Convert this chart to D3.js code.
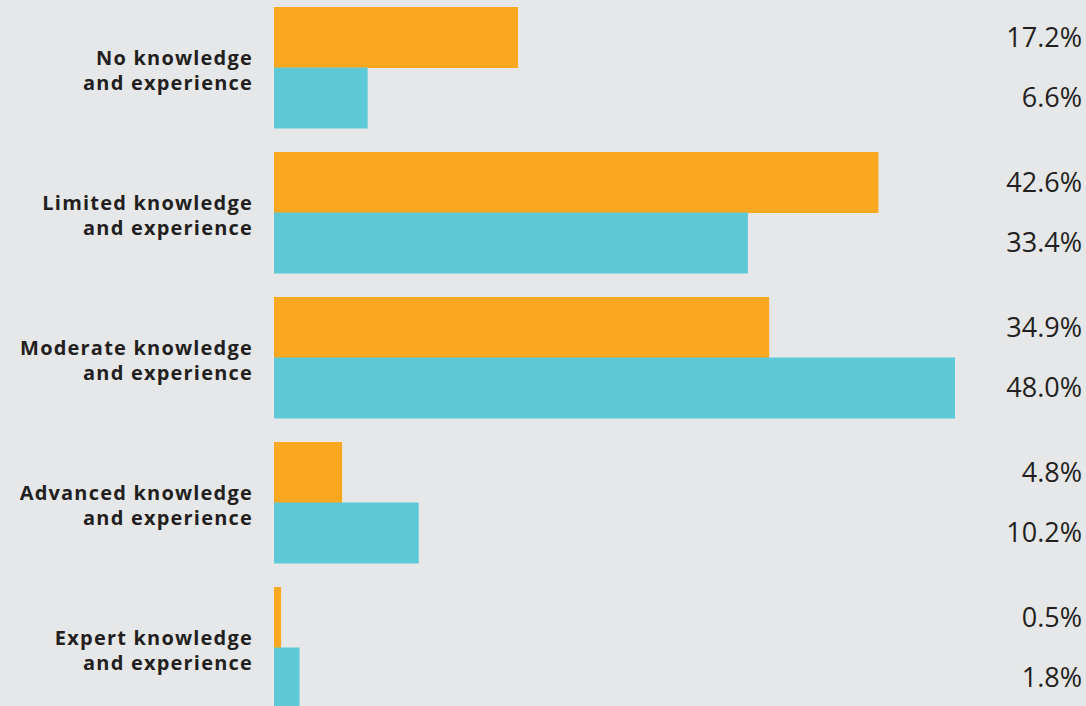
<!DOCTYPE html>
<html>
<head>
<meta charset="utf-8">
<script src="https://cdn.jsdelivr.net/npm/d3@7"></script>
<style>
  html, body { margin: 0; padding: 0; background: #e6e7e9; }
  svg { display: block; }
</style>
</head>
<body>
<svg id="chart" width="1086" height="706"></svg>
<script>
// Knowledge / experience levels (two-line labels)
const categories = [
  ["No knowledge", "and experience"],
  ["Limited knowledge", "and experience"],
  ["Moderate knowledge", "and experience"],
  ["Advanced knowledge", "and experience"],
  ["Expert knowledge", "and experience"]
];
const seriesNames = ["orange", "teal"];
const orangeValues = [17.2, 42.6, 34.9, 4.8, 0.5];
const tealValues = [6.6, 33.4, 48.0, 10.2, 1.8];
const colors = { orange: "#f9a820", teal: "#5ec9d6" };

const svg = d3.select("#chart");

const keys = categories.map(c => c.join(" "));
const rows = keys.map((k, i) => ({ key: k, lines: categories[i], orange: orangeValues[i], teal: tealValues[i] }));

const x = d3.scaleLinear().domain([0, 48]).range([274, 955]);
const y = d3.scaleBand().domain(keys).range([7, 708]).paddingInner(24 / 145).paddingOuter(0);
const ySub = d3.scaleBand().domain(seriesNames).range([0, y.bandwidth()]);

const groups = svg.selectAll("g.group")
  .data(rows)
  .join("g")
  .attr("class", "group")
  .attr("transform", d => `translate(0,${y(d.key)})`);

// bars
groups.selectAll("rect")
  .data(d => seriesNames.map(s => ({ s, v: d[s] })))
  .join("rect")
  .attr("x", x(0))
  .attr("y", d => ySub(d.s))
  .attr("width", d => x(d.v) - x(0))
  .attr("height", ySub.bandwidth() + 0.5)
  .attr("fill", d => colors[d.s]);

// value labels at right edge
groups.selectAll("text.value")
  .data(d => seriesNames.map(s => ({ s, v: d[s] })))
  .join("text")
  .attr("class", "value")
  .attr("x", 1082)
  .attr("y", d => ySub(d.s) + ySub.bandwidth() / 2 + 9.5)
  .attr("text-anchor", "end")
  .attr("font-family", "'Open Sans', sans-serif")
  .attr("font-size", 27)
  .attr("font-weight", 500)
  .attr("fill", "#231f20")
  .text(d => d.v.toFixed(1) + "%");

// category labels
const lab = groups.append("text")
  .attr("text-anchor", "end")
  .attr("font-family", "'Open Sans', sans-serif")
  .attr("font-weight", 700)
  .attr("font-size", 20)
  .attr("letter-spacing", 1.2)
  .attr("fill", "#231f20");
lab.selectAll("tspan")
  .data(d => d.lines)
  .join("tspan")
  .attr("x", 253)
  .attr("y", (d, i) => y.bandwidth() / 2 - 3 + i * 25.5)
  .text(d => d);
</script>
</body>
</html>
